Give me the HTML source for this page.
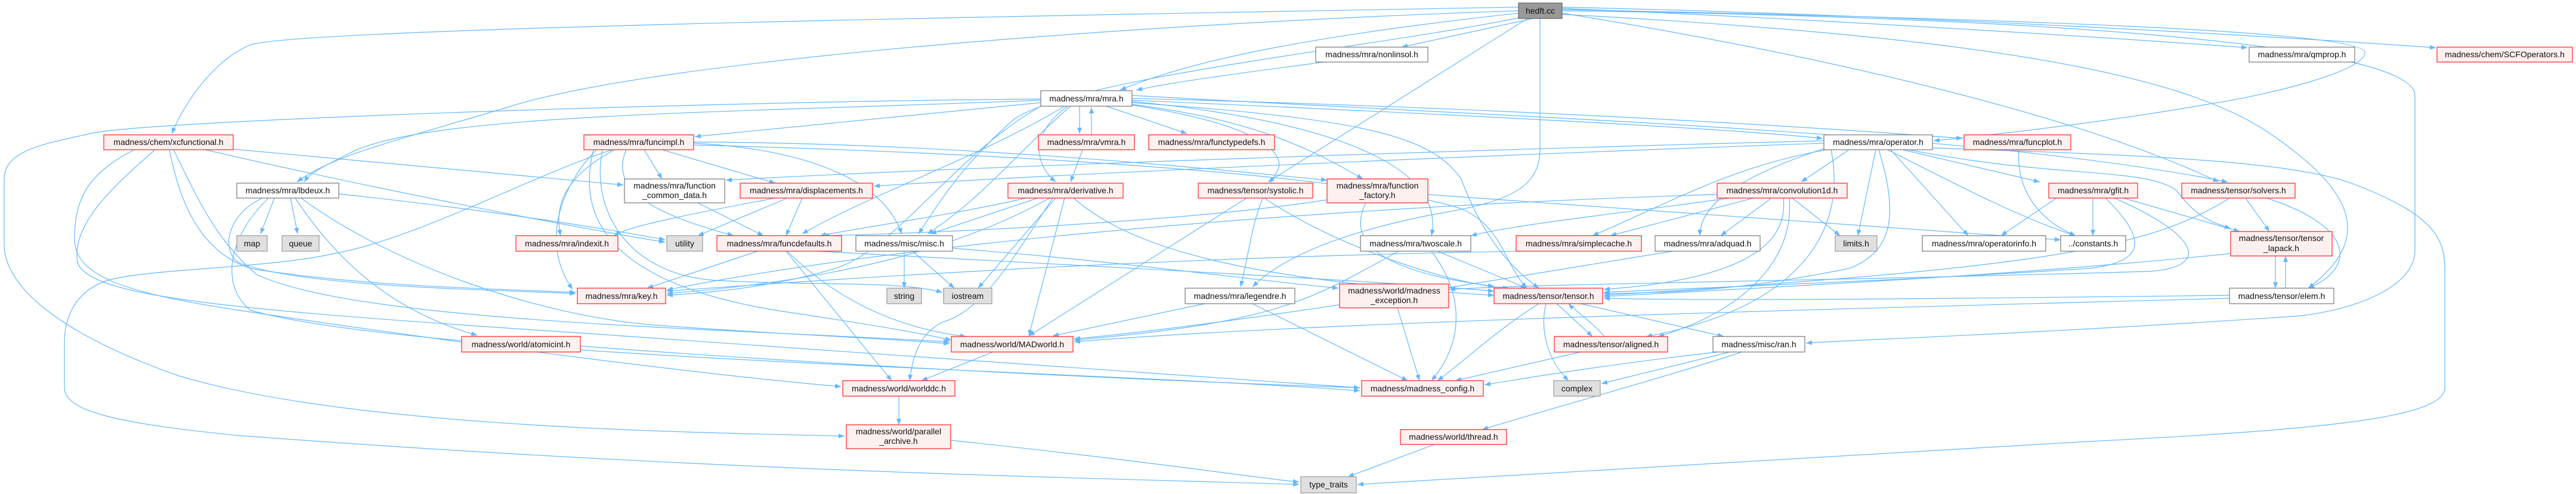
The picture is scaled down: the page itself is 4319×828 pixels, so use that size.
<!DOCTYPE html>
<html><head><meta charset="utf-8"><style>
html,body{margin:0;padding:0;background:#fff;}
svg{display:block;}
text{font-family:"Liberation Sans",sans-serif;font-size:14px;fill:#111;text-anchor:middle;}
.e{fill:none;stroke:#63b8ff;stroke-width:1.2;marker-end:url(#a);}
.r{fill:#fff0f0;stroke:#ff2020;stroke-width:1.2;}
.g{fill:#fff;stroke:#777;stroke-width:1.2;}
.s{fill:#e0e0e0;stroke:#999;stroke-width:1.2;}
.h{fill:#999;stroke:#666;stroke-width:1.2;}
</style></head><body>
<svg width="4319" height="828" viewBox="0 0 4319 828" xmlns="http://www.w3.org/2000/svg">
<defs><marker id="a" markerUnits="userSpaceOnUse" markerWidth="11" markerHeight="8" refX="10" refY="4" orient="auto"><path d="M0,0 L10,4 L0,8 z" fill="#63b8ff"/></marker></defs>
<g>
<path class="e" d="M2546,12 C1500,30 500,50 420,75 C360,100 310,170 288,224"/>
<path class="e" d="M2546,18 C1900,40 1100,100 850,180 C650,240 560,260 498,305"/>
<path class="e" d="M2546,22 C2200,60 2000,100 1878,151"/>
<path class="e" d="M2220,104 C2100,120 1980,135 1905,151"/>
<path class="e" d="M2570,31 L2350,79"/>
<path class="e" d="M2561,31 L2126,305"/>
<path class="e" d="M2582,31 L2582,250 C2582,320 2520,340 2400,360 C2250,390 2150,430 2100,481"/>
<path class="e" d="M2546,30 C2300,80 1800,130 1700,200 C1620,270 1580,330 1540,392"/>
<path class="e" d="M2619,22 C3100,100 3500,200 3720,305"/>
<path class="e" d="M1898,160 C2600,200 3300,220 3735,305"/>
<path class="e" d="M2619,14 C3000,30 3500,60 3768,80"/>
<path class="e" d="M2619,12 C3200,25 3800,60 4084,80"/>
<path class="e" d="M2619,16 C3300,30 3965,50 3965,88 C3965,120 3800,160 3700,175 C3500,210 3300,230 3242,236"/>
<path class="e" d="M1898,165 C2500,180 3000,210 3290,232"/>
<path class="e" d="M1898,168 C2400,190 2900,215 3056,232"/>
<path class="e" d="M2619,18 C3500,30 4049,80 4049,160 L4049,420 C4049,480 3950,520 3850,530 C3400,560 3100,570 3028,575"/>
<path class="e" d="M2619,24 C3300,60 3650,120 3800,220 C3950,320 3980,400 3870,483"/>
<path class="e" d="M1745,166 C1200,170 300,200 160,222 C80,240 7,250 7,300 L7,410 C7,480 100,560 300,630 C600,720 1200,725 1416,731"/>
<path class="e" d="M1030,250 C900,290 700,400 560,425 C450,450 250,450 180,470 C120,490 108,540 108,575 L108,650 C108,690 200,710 400,730 C1200,790 1800,800 2178,812"/>
<path class="e" d="M391,250 L1045,310"/>
<path class="e" d="M344,251 C600,310 900,370 1115,406"/>
<path class="e" d="M284,251 C300,330 330,420 420,450 C600,480 850,485 965,490"/>
<path class="e" d="M291,251 C330,330 360,400 430,460 C600,540 1200,550 1592,573"/>
<path class="e" d="M260,251 C180,320 120,380 130,440 C150,500 400,520 1000,560 C1700,610 2100,640 2280,650"/>
<path class="e" d="M225,251 C150,290 125,330 125,400 C125,460 200,490 400,520 C800,580 1200,630 1410,648"/>
<path class="e" d="M460,332 L437,392"/>
<path class="e" d="M487,332 L499,392"/>
<path class="e" d="M495,332 C560,430 650,520 800,562"/>
<path class="e" d="M440,332 C380,360 370,420 400,440 C500,480 800,485 965,492"/>
<path class="e" d="M568,325 C800,350 1000,380 1115,402"/>
<path class="e" d="M505,332 C650,440 900,530 1100,545 C1300,560 1450,565 1592,576"/>
<path class="e" d="M450,332 C380,400 370,480 420,520 C700,600 1800,620 2280,655"/>
<path class="e" d="M1745,172 C1500,195 1300,215 1165,229"/>
<path class="e" d="M1810,178 L1810,224"/>
<path class="e" d="M1830,226 L1830,180"/>
<path class="e" d="M1855,178 L1990,224"/>
<path class="e" d="M1790,178 C1720,230 1740,280 1770,305"/>
<path class="e" d="M1815,251 L1795,305"/>
<path class="e" d="M1795,178 C1700,260 1650,330 1555,392"/>
<path class="e" d="M1785,178 C1650,260 1450,330 1345,392"/>
<path class="e" d="M1745,178 C1600,260 1500,420 1400,450 C1300,480 1200,490 1118,495"/>
<path class="e" d="M1745,168 C1200,190 700,190 580,260 C540,280 520,290 510,305"/>
<path class="e" d="M1898,172 C2300,200 2400,230 2450,300 C2480,380 2520,440 2580,483"/>
<path class="e" d="M1898,175 C2100,200 2200,250 2285,300"/>
<path class="e" d="M1898,170 C2300,210 2420,300 2400,395"/>
<path class="e" d="M1898,176 C2120,210 2160,260 2140,290 C2100,350 2100,400 2080,481"/>
<path class="e" d="M3058,240 C2500,260 1800,290 1465,312"/>
<path class="e" d="M3058,236 C2500,250 1600,280 1217,302"/>
<path class="e" d="M1030,251 C940,300 930,350 940,395"/>
<path class="e" d="M1080,251 L1110,300"/>
<path class="e" d="M1110,251 L1300,307"/>
<path class="e" d="M1050,251 C1020,320 1100,360 1230,395"/>
<path class="e" d="M1163,240 C1350,250 1480,300 1512,392"/>
<path class="e" d="M1000,251 C950,300 900,400 960,485"/>
<path class="e" d="M1010,251 C990,350 1050,460 1200,470 C1400,480 1500,470 1580,490"/>
<path class="e" d="M1163,243 C1800,260 2300,300 2450,350 C2520,380 2520,440 2560,483"/>
<path class="e" d="M1163,238 C1600,240 2000,280 2225,302"/>
<path class="e" d="M995,251 C970,350 1000,470 1300,520 C1500,550 1550,560 1595,570"/>
<path class="e" d="M1170,340 L1280,395"/>
<path class="e" d="M1345,332 L1318,395"/>
<path class="e" d="M1320,332 L1170,395"/>
<path class="e" d="M1300,332 C1150,360 1050,380 1030,395"/>
<path class="e" d="M1270,421 L1085,483"/>
<path class="e" d="M1320,421 C1400,500 1500,550 1620,564"/>
<path class="e" d="M1318,421 L1495,638"/>
<path class="e" d="M1370,421 C1900,450 2300,470 2505,488"/>
<path class="e" d="M1516,421 L1516,483"/>
<path class="e" d="M1530,421 L1600,483"/>
<path class="e" d="M1597,416 C1900,440 2100,470 2244,483"/>
<path class="e" d="M1720,332 C1600,360 1450,380 1375,395"/>
<path class="e" d="M1740,332 L1560,392"/>
<path class="e" d="M1760,332 C1600,420 1400,470 1118,492"/>
<path class="e" d="M1770,332 L1640,483"/>
<path class="e" d="M1785,332 L1725,563"/>
<path class="e" d="M1765,332 C1700,430 1650,520 1580,540 C1540,560 1530,600 1525,638"/>
<path class="e" d="M1800,332 C1900,420 2100,470 2505,495"/>
<path class="e" d="M2090,332 L1725,563"/>
<path class="e" d="M2120,332 C2250,420 2450,480 2530,483"/>
<path class="e" d="M2290,340 C2250,420 2350,460 2505,480"/>
<path class="e" d="M2225,335 C2000,370 1600,390 1380,395"/>
<path class="e" d="M2394,326 C3000,370 3300,390 3455,402"/>
<path class="e" d="M2410,421 L2560,483"/>
<path class="e" d="M2400,421 C2460,500 2450,580 2400,638"/>
<path class="e" d="M2345,421 C2200,500 2150,540 1801,570"/>
<path class="e" d="M2552,421 C2000,430 1500,460 1118,488"/>
<path class="e" d="M2805,421 C2500,470 2100,540 1801,568"/>
<path class="e" d="M2020,509 L1765,563"/>
<path class="e" d="M2100,509 L2360,638"/>
<path class="e" d="M2343,516 L2380,638"/>
<path class="e" d="M2580,509 C2500,560 2450,610 2410,638"/>
<path class="e" d="M2610,509 L2670,564"/>
<path class="e" d="M2690,564 C2670,540 2640,520 2630,509"/>
<path class="e" d="M2592,509 C2580,560 2600,610 2630,638"/>
<path class="e" d="M2650,509 L2890,564"/>
<path class="e" d="M2650,590 L2440,638"/>
<path class="e" d="M2880,590 C2700,610 2550,635 2489,645"/>
<path class="e" d="M2900,590 L2685,643"/>
<path class="e" d="M2920,590 C2800,630 2650,670 2485,720"/>
<path class="e" d="M2405,745 L2260,799"/>
<path class="e" d="M1665,590 L1545,638"/>
<path class="e" d="M1507,664 L1507,712"/>
<path class="e" d="M1594,738 C1900,770 2100,800 2178,808"/>
<path class="e" d="M973,580 C1500,620 2000,640 2280,650"/>
<path class="e" d="M3100,251 L3020,305"/>
<path class="e" d="M3190,251 L3420,305"/>
<path class="e" d="M3145,251 L3115,395"/>
<path class="e" d="M3170,251 L3300,395"/>
<path class="e" d="M3165,251 C3300,320 3400,370 3480,395"/>
<path class="e" d="M3200,251 C3450,300 3600,280 3650,320 C3680,360 3700,370 3740,383"/>
<path class="e" d="M3150,251 C3180,350 3180,420 3100,450 C2900,490 2800,490 2689,492"/>
<path class="e" d="M3062,251 C2900,280 2800,340 2670,395"/>
<path class="e" d="M3062,248 C2900,300 2850,350 2850,395"/>
<path class="e" d="M3240,248 C3600,260 3850,270 3950,310 C4080,360 4099,400 4099,450 L4099,650 C4099,700 3900,720 3500,740 C3000,770 2500,800 2276,812"/>
<path class="e" d="M3070,251 C3100,400 3000,520 2760,564"/>
<path class="e" d="M2900,332 C2700,360 2550,375 2466,395"/>
<path class="e" d="M2940,332 L2700,395"/>
<path class="e" d="M2970,332 L2885,395"/>
<path class="e" d="M3005,332 L3085,395"/>
<path class="e" d="M2990,332 C3000,420 2900,470 2689,485"/>
<path class="e" d="M3000,332 C3010,450 2900,530 2780,564"/>
<path class="e" d="M2879,326 C2400,340 1600,390 1118,486"/>
<path class="e" d="M3448,332 L3355,395"/>
<path class="e" d="M3509,332 L3509,395"/>
<path class="e" d="M3560,332 L3755,388"/>
<path class="e" d="M3530,332 C3600,400 3600,440 3500,450 C3200,470 2900,480 2689,490"/>
<path class="e" d="M3545,332 C3700,400 3700,450 3600,455 C3100,470 2600,475 2430,485"/>
<path class="e" d="M3765,332 L3805,388"/>
<path class="e" d="M3800,332 C3950,380 3950,450 3870,483"/>
<path class="e" d="M3738,332 C3600,420 3400,450 2689,495"/>
<path class="e" d="M3385,251 C3380,320 3420,370 3480,395"/>
<path class="e" d="M3740,425 C3400,460 3000,480 2689,497"/>
<path class="e" d="M3815,429 L3815,483"/>
<path class="e" d="M3832,483 L3832,429"/>
<path class="e" d="M3738,495 C3300,500 2900,505 2689,500"/>
<path class="e" d="M3738,500 C3000,520 2200,540 1801,573"/>
</g>
<g>
<rect class="h" x="2546" y="5" width="73" height="26"/><text x="2582.5" y="23">hedft.cc</text>
<rect class="g" x="2206" y="79" width="188" height="25"/><text x="2300" y="96">madness/mra/nonlinsol.h</text>
<rect class="g" x="3771" y="79" width="177" height="25"/><text x="3859.5" y="96">madness/mra/qmprop.h</text>
<rect class="r" x="4086" y="79" width="227" height="25"/><text x="4199.5" y="96">madness/chem/SCFOperators.h</text>
<rect class="g" x="1745" y="152" width="153" height="26"/><text x="1821.5" y="170">madness/mra/mra.h</text>
<rect class="r" x="174" y="226" width="217" height="25"/><text x="282.5" y="243">madness/chem/xcfunctional.h</text>
<rect class="r" x="979" y="226" width="184" height="25"/><text x="1071" y="243">madness/mra/funcimpl.h</text>
<rect class="r" x="1741" y="226" width="161" height="25"/><text x="1821.5" y="243">madness/mra/vmra.h</text>
<rect class="r" x="1926" y="226" width="211" height="25"/><text x="2031.5" y="243">madness/mra/functypedefs.h</text>
<rect class="g" x="3058" y="226" width="182" height="25"/><text x="3149" y="243">madness/mra/operator.h</text>
<rect class="r" x="3293" y="226" width="179" height="25"/><text x="3382.5" y="243">madness/mra/funcplot.h</text>
<rect class="g" x="397" y="307" width="171" height="25"/><text x="482.5" y="324">madness/mra/lbdeux.h</text>
<rect class="g" x="1047" y="300" width="168" height="40"/><text x="1131" y="316">madness/mra/function</text><text x="1131" y="332">_common_data.h</text>
<rect class="r" x="1241" y="307" width="222" height="25"/><text x="1352" y="324">madness/mra/displacements.h</text>
<rect class="r" x="1690" y="307" width="193" height="25"/><text x="1786.5" y="324">madness/mra/derivative.h</text>
<rect class="r" x="2009" y="307" width="192" height="25"/><text x="2105" y="324">madness/tensor/systolic.h</text>
<rect class="r" x="2225" y="300" width="169" height="40"/><text x="2309.5" y="316">madness/mra/function</text><text x="2309.5" y="332">_factory.h</text>
<rect class="r" x="2879" y="307" width="218" height="25"/><text x="2988" y="324">madness/mra/convolution1d.h</text>
<rect class="r" x="3435" y="307" width="149" height="25"/><text x="3509.5" y="324">madness/mra/gfit.h</text>
<rect class="r" x="3658" y="307" width="190" height="25"/><text x="3753" y="324">madness/tensor/solvers.h</text>
<rect class="s" x="397" y="395" width="51" height="26"/><text x="422.5" y="413">map</text>
<rect class="s" x="473" y="395" width="62" height="26"/><text x="504" y="413">queue</text>
<rect class="r" x="865" y="395" width="171" height="26"/><text x="950.5" y="413">madness/mra/indexit.h</text>
<rect class="s" x="1118" y="395" width="60" height="26"/><text x="1148" y="413">utility</text>
<rect class="r" x="1202" y="395" width="209" height="26"/><text x="1306.5" y="413">madness/mra/funcdefaults.h</text>
<rect class="g" x="1435" y="395" width="162" height="26"/><text x="1516" y="413">madness/misc/misc.h</text>
<rect class="g" x="2281" y="395" width="185" height="26"/><text x="2373.5" y="413">madness/mra/twoscale.h</text>
<rect class="r" x="2542" y="395" width="210" height="26"/><text x="2647" y="413">madness/mra/simplecache.h</text>
<rect class="g" x="2775" y="395" width="176" height="26"/><text x="2863" y="413">madness/mra/adquad.h</text>
<rect class="s" x="3077" y="395" width="70" height="26"/><text x="3112" y="413">limits.h</text>
<rect class="g" x="3223" y="395" width="207" height="26"/><text x="3326.5" y="413">madness/mra/operatorinfo.h</text>
<rect class="g" x="3455" y="395" width="109" height="26"/><text x="3509.5" y="413">../constants.h</text>
<rect class="r" x="3740" y="388" width="170" height="41"/><text x="3825" y="404">madness/tensor/tensor</text><text x="3825" y="421">_lapack.h</text>
<rect class="r" x="968" y="483" width="148" height="26"/><text x="1042" y="501">madness/mra/key.h</text>
<rect class="s" x="1487" y="483" width="58" height="26"/><text x="1516" y="501">string</text>
<rect class="s" x="1582" y="483" width="81" height="26"/><text x="1622.5" y="501">iostream</text>
<rect class="g" x="1987" y="483" width="184" height="26"/><text x="2079" y="501">madness/mra/legendre.h</text>
<rect class="r" x="2246" y="476" width="183" height="40"/><text x="2337.5" y="492">madness/world/madness</text><text x="2337.5" y="508">_exception.h</text>
<rect class="r" x="2505" y="483" width="182" height="26"/><text x="2596" y="501">madness/tensor/tensor.h</text>
<rect class="g" x="3738" y="483" width="175" height="26"/><text x="3825.5" y="501">madness/tensor/elem.h</text>
<rect class="r" x="774" y="564" width="199" height="26"/><text x="873.5" y="582">madness/world/atomicint.h</text>
<rect class="r" x="1595" y="564" width="204" height="26"/><text x="1697" y="582">madness/world/MADworld.h</text>
<rect class="r" x="2606" y="564" width="190" height="26"/><text x="2701" y="582">madness/tensor/aligned.h</text>
<rect class="g" x="2872" y="564" width="154" height="26"/><text x="2949" y="582">madness/misc/ran.h</text>
<rect class="r" x="1413" y="638" width="188" height="26"/><text x="1507" y="656">madness/world/worlddc.h</text>
<rect class="r" x="2283" y="638" width="204" height="26"/><text x="2385" y="656">madness/madness_config.h</text>
<rect class="s" x="2605" y="638" width="78" height="26"/><text x="2644" y="656">complex</text>
<rect class="r" x="1419" y="712" width="175" height="40"/><text x="1506.5" y="728">madness/world/parallel</text><text x="1506.5" y="744">_archive.h</text>
<rect class="r" x="2348" y="720" width="178" height="25"/><text x="2437" y="737">madness/world/thread.h</text>
<rect class="s" x="2181" y="799" width="93" height="27"/><text x="2227.5" y="817">type_traits</text>
</g>
</svg>
</body></html>
